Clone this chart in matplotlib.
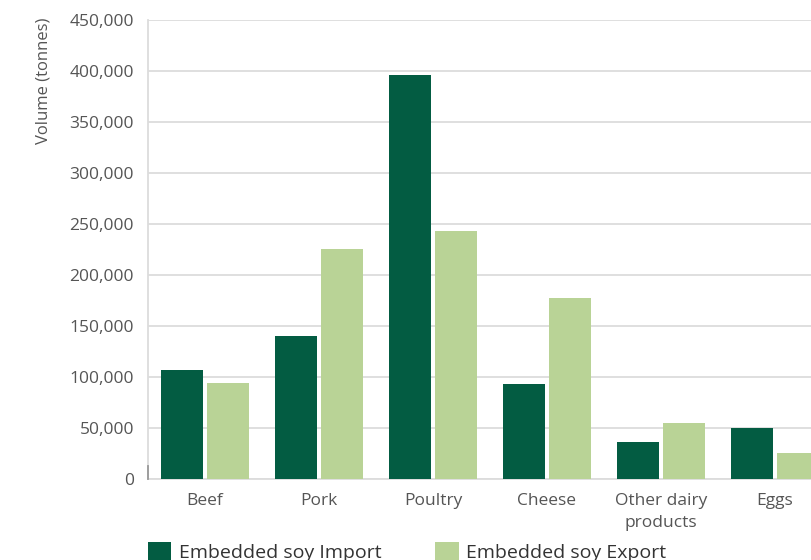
import matplotlib
matplotlib.use("Agg")
import matplotlib.pyplot as plt
import numpy as np
from matplotlib.patches import Patch
from matplotlib.ticker import FuncFormatter

categories = ["Beef", "Pork", "Poultry", "Cheese", "Other dairy\nproducts", "Eggs"]
imports = [106500, 140000, 396000, 93000, 36000, 49500]
exports = [94000, 225500, 243000, 177500, 54500, 25000]
series_names = ["Embedded soy Import", "Embedded soy Export"]
yticks = [0, 50000, 100000, 150000, 200000, 250000, 300000, 350000, 400000, 450000]

dark = "#035C42"
light = "#B9D396"
grid_c = "#DCDCDC"
text_c = "#555555"

plt.rcParams['font.family'] = ['Open Sans', 'DejaVu Sans']

fig = plt.figure(figsize=(8.12, 5.60), dpi=100)
ax = fig.add_axes([148/812, 1-478.7/560, 684/812, (478.7-20)/560])

x = np.arange(len(categories))
w = 0.368
off = 0.2018
ax.bar(x - off, imports, width=w, color=dark, zorder=3)
ax.bar(x + off, exports, width=w, color=light, zorder=3)

ax.set_xlim(-0.5, len(categories) - 0.5)
ax.set_ylim(0, 450000)
ax.set_yticks(yticks)
ax.yaxis.set_major_formatter(FuncFormatter(lambda v, p: f"{int(v):,}"))
ax.set_xticks(x)
ax.set_xticklabels(categories, linespacing=1.55)
ax.tick_params(axis='both', length=0, colors=text_c, labelsize=12.5)
ax.tick_params(axis='y', pad=10)
ax.tick_params(axis='x', pad=10)

ax.grid(axis='y', color=grid_c, linewidth=1.3, zorder=0)
for s in ['top', 'right']:
    ax.spines[s].set_visible(False)
ax.spines['left'].set_color(grid_c)
ax.spines['left'].set_linewidth(1.3)
ax.spines['bottom'].set_color(grid_c)
ax.spines['bottom'].set_linewidth(1.3)
ax.spines['left'].set_zorder(1)

# small darker stub at the bottom of the y axis
ax.plot([-0.5, -0.5], [0, 12000], color="#999999", linewidth=1.3, zorder=4, clip_on=False)

fig.text(44/812, 1 - 81/560, "Volume (tonnes)", rotation=90, ha='center', va='center',
         color=text_c, fontsize=12)

handles = [Patch(facecolor=dark, edgecolor='none'), Patch(facecolor=light, edgecolor='none')]
leg = fig.legend(handles, series_names, loc='center left', bbox_to_anchor=(148/812, 1 - 552/560),
                 ncol=2, frameon=False, fontsize=14, handlelength=1.2, handleheight=1.0,
                 handletextpad=0.4, columnspacing=2.75, borderpad=0, borderaxespad=0)
for t in leg.get_texts():
    t.set_color("#333333")

fig.savefig("out.png", dpi=100)
